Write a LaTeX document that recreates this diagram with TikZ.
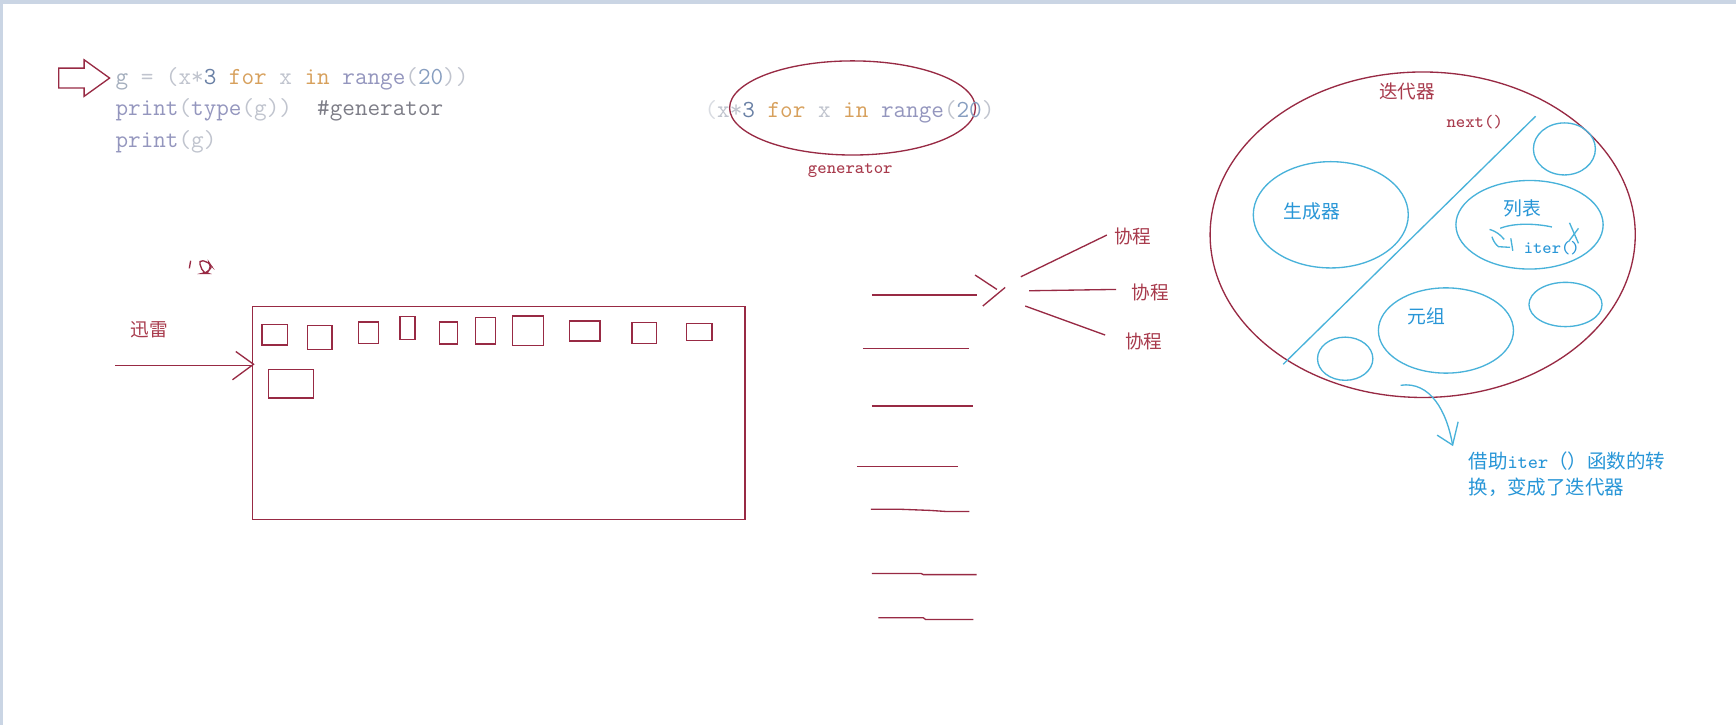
\documentclass[tikz,border=0pt]{standalone}
\usepackage{fontspec}
\newfontfamily\cjk{Noto Sans CJK SC}
\usetikzlibrary{shapes.geometric}
\definecolor{mr}{RGB}{152,42,68}
\definecolor{mrt}{RGB}{168,58,76}
\definecolor{bl}{RGB}{72,178,218}
\definecolor{blt}{RGB}{40,150,215}
\definecolor{band}{RGB}{202,213,228}
\definecolor{cg}{RGB}{165,175,190}
\definecolor{cl}{RGB}{192,196,206}
\definecolor{cn}{RGB}{105,128,165}
\definecolor{ck}{RGB}{215,160,92}
\definecolor{cf}{RGB}{148,150,190}
\definecolor{cnum}{RGB}{135,158,192}
\definecolor{cc}{RGB}{125,125,135}
\tikzset{
  mline/.style={draw=mr, line width=0.6pt},
  bline/.style={draw=bl, line width=0.6pt},
  mell/.style={ellipse, draw=mr, line width=0.6pt, inner sep=0pt},
  bell/.style={ellipse, draw=bl, line width=0.6pt, inner sep=0pt},
  code/.style={inner sep=0pt, font=\fontsize{11.05pt}{13pt}\ttfamily},
  mcjk/.style={inner sep=0pt, text=mrt, font=\cjk\fontsize{8.4pt}{10pt}\selectfont},
  bcjk/.style={inner sep=0pt, text=blt, font=\cjk\fontsize{8.5pt}{11.5pt}\selectfont},
  mtt/.style={inner sep=0pt, text=mrt, font=\fontsize{8pt}{10pt}\ttfamily},
  btt/.style={inner sep=0pt, text=blt, font=\fontsize{7.9pt}{10pt}\ttfamily},
}
\begin{document}
\begin{tikzpicture}[x=0.5pt,y=-0.5pt]
\useasboundingbox (0,0) rectangle (1568,655);
\fill[white] (0,0) rectangle (1568,655);
\fill[band] (0,0) rectangle (1568,4);
\fill[band] (0,0) rectangle (3,655);

% hollow arrow pointing at code
\draw[mline] (53,61.5) -- (76,61.5) -- (76,54) -- (99,70.5) -- (76,87) -- (76,79.5) -- (53,79.5) -- cycle;

% code
\node[code, anchor=base west] (l1) at (104,76) {\textcolor{cg}{g} \textcolor{cl}{= (x*}\textcolor{cn}{3} \textcolor{ck}{for} \textcolor{cl}{x} \textcolor{ck}{in} \textcolor{cf}{range}\textcolor{cl}{(}\textcolor{cnum}{20}\textcolor{cl}{))}};
\node[code, anchor=base west] (l2) at (104,104) {\textcolor{cf}{print}\textcolor{cl}{(}\textcolor{cf}{type}\textcolor{cl}{(g))}\ \ \textcolor{cc}{\#generator}};
\node[code, anchor=base west] (l3) at (104,133) {\textcolor{cf}{print}\textcolor{cl}{(g)}};

% generator ellipse
\node[mell, minimum width=111pt, minimum height=42.5pt] (genell) at (770,97.5) {};
\node[code, anchor=base west] (gtext) at (636,106) {\textcolor{cl!60}{(}\textcolor{cl}{x*}\textcolor{cn}{3} \textcolor{ck}{for} \textcolor{cl}{x} \textcolor{ck}{in} \textcolor{cf}{range}\textcolor{cl}{(}\textcolor{cnum}{20}\textcolor{cl}{)}};
\node[mtt] (genlab) at (768,154) {generator};

% scribble
\draw[mline] (172.2,235.5) -- (171,242.4);
\draw[mline, rounded corners=2pt] (179.2,234.9) -- (188.2,236.4) -- (191.2,240.9) -- (186.7,246.9) -- (183.7,246.9) -- cycle;

% xunlei
\node[mcjk] (xl) at (135,297.5) {迅雷};
\coordinate (xa) at (104,330.4);
\coordinate (xt) at (229,329);
\draw[mline] (xa) -- (227,330.4);
\draw[mline] (213,317.5) -- (xt) -- (210,343);

% big rectangle with small boxes
\node[draw=mr, line width=0.6pt, minimum width=222.5pt, minimum height=96pt, inner sep=0pt] (big) at (450.5,373) {};
\draw[mline] (236.7,293) rectangle (259.5,311.5);
\draw[mline] (277.8,294) rectangle (299.8,315.4);
\draw[mline] (323.8,290.8) rectangle (342,310);
\draw[mline] (361.4,286) rectangle (374.7,306.4);
\draw[mline] (396.7,290.8) rectangle (413.4,310.6);
\draw[mline] (429.4,287) rectangle (447.6,310.6);
\draw[mline] (462.8,285.4) rectangle (490.6,311.8);
\draw[mline] (514.5,289.9) rectangle (541.9,307.9);
\draw[mline] (570.8,291.1) rectangle (592.8,310);
\draw[mline] (619.8,292) rectangle (643,307.6);
\draw[mline] (242.4,334) rectangle (283.1,359.5);

% middle lines
\draw[mline] (787.4,266.5) -- (882.2,266.5);
\draw[mline] (779.3,314.6) -- (875.6,314.6);
\draw[mline] (787.4,366.8) -- (878.7,366.8);
\draw[mline] (773.9,421.6) -- (865.7,421.6);
\draw[mline] (786.5,460) -- (814,460) -- (840,461) -- (855,462) -- (875.6,462);
\draw[mline] (787.4,518) -- (832,518) -- (834,519) -- (882.2,519);
\draw[mline] (793.4,558) -- (834,558) -- (836,559.5) -- (879.2,559.5);
\draw[mline] (880.7,248.4) -- (900.4,261.4);
\draw[mline] (887.7,276.4) -- (907.9,259.6);

% coroutine fan
\node[mcjk] (x1) at (1023,213.5) {协程};
\node[mcjk] (x2) at (1039,264) {协程};
\node[mcjk] (x3) at (1033,308) {协程};
\draw[mline] (922,250) -- (999.7,212.3);
\draw[mline] (929.6,262.6) -- (970,262) -- (1008,261.4);
\draw[mline] (926,276.4) -- (998.2,302.6);

% iterator ellipse
\node[mell, minimum width=192pt, minimum height=147pt] (iterell) at (1285,212) {};
\node[mcjk] (iterlab) at (1271,83) {迭代器};
\node[mtt] (nextlab) at (1332,110) {next()};
\draw[bline] (1387,105) -- (1159,329);

\node[bell, minimum width=70pt, minimum height=48pt] (gen) at (1202,194) {};
\node[bcjk] (gent) at (1185,191) {生成器};
\node[bell, minimum width=28pt, minimum height=23.5pt] (c1) at (1413,134.5) {};
\node[bell, minimum width=66.5pt, minimum height=40pt] (lst) at (1381.5,203) {};
\node[bcjk] (lstt) at (1375,188) {列表};
\node[btt, anchor=west] (itert) at (1376,224) {iter()};
\draw[bline] (1355,206.2) .. controls (1368,201) and (1388,202) .. (1401.7,205);
\draw[bline] (1345.4,207.2) .. controls (1352,209.3) and (1355,212) .. (1358.6,216.2);
\draw[bline] (1347.5,213.8) .. controls (1349,218) and (1351,221) .. (1353.5,222.8) -- (1364,223.4);
\draw[bline] (1364.6,215.3) -- (1366.4,226.5);
\draw[bline] (1417.6,201.2) -- (1425.7,219.8);
\draw[bline] (1425.7,206.2) -- (1416.7,218.3);
\node[bell, minimum width=33pt, minimum height=20pt] (c2) at (1414,275) {};
\node[bell, minimum width=61pt, minimum height=38.5pt] (tup) at (1306,298.5) {};
\node[bcjk] (tupt) at (1288,286) {元组};
\node[bell, minimum width=25pt, minimum height=19.5pt] (c3) at (1215,324) {};

% curved arrow and explanation
\coordinate (cs) at (1265,348);
\coordinate (ct) at (1312,402);
\draw[bline] (cs) .. controls (1292,344) and (1307,372) .. (ct);
\draw[bline] (1298,393) -- (ct) -- (1317,381);
\node[bcjk, anchor=north west, align=left, font=\cjk\fontsize{8.8pt}{11.8pt}\selectfont] (expl) at (1326,408) {借助\texttt{iter}（）函数的转\\换，变成了迭代器};
\end{tikzpicture}
\end{document}
